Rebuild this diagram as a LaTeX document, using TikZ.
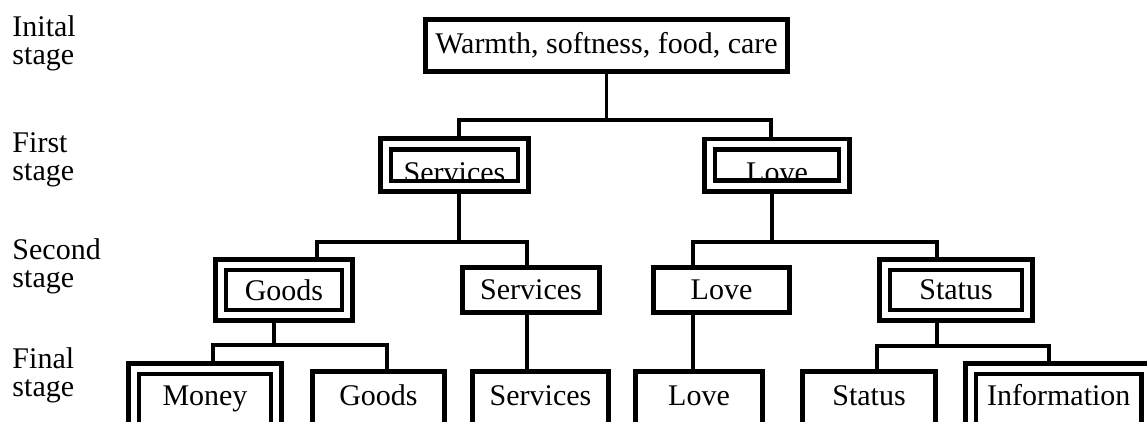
\documentclass[tikz,border=0pt]{standalone}
\usepackage{fontspec}
\setmainfont{Liberation Serif}
\usetikzlibrary{positioning,backgrounds}

\begin{document}
\begin{tikzpicture}[x=0.4pt, y=-0.4pt,
    every node/.style={font=\fontsize{12pt}{11.2pt}\selectfont},
    sbox/.style={draw, line width=2pt, inner xsep=2pt, inner ysep=0pt},
    dbox/.style={draw, double, double distance=2.4pt, line width=1.9pt, inner xsep=2pt, inner ysep=0pt},
    lowtext/.style={text height=13.6pt, text depth=0pt},
    cut/.style={text height=8pt, text depth=8pt},
    lbl/.style={anchor=north west, align=left, inner sep=0pt},
    link/.style={line width=1.3pt}]
    \useasboundingbox (0,0) rectangle (1147,421);

    % Stage labels
    \node[lbl] (l0) at (12,15.5) {Inital\\stage};
    \node[lbl] (l1) at (12,132) {First\\stage};
    \node[lbl] (l2) at (12,238.5) {Second\\stage};
    \node[lbl] (l3) at (12,347.5) {Final\\stage};

    % Initial stage
    \node[sbox, minimum width=144.8pt, minimum height=20.8pt] (top) at (606.5,45.5) {Warmth, softness, food, care};

    % First stage
    \node[dbox, lowtext, minimum width=55.1pt, minimum height=17pt] (serv1) at (454.5,165) {Services};
    \node[dbox, lowtext, minimum width=53.9pt, minimum height=16.6pt] (love1) at (777,165) {Love};

    % Second stage
    \node[dbox, minimum width=50.7pt, minimum height=20.3pt] (goods2) at (284,290) {Goods};
    \node[sbox, minimum width=54.8pt, minimum height=18pt] (serv2) at (531,290) {Services};
    \node[sbox, minimum width=54.4pt, minimum height=18pt] (love2) at (721.5,290) {Love};
    \node[dbox, minimum width=57.1pt, minimum height=20.3pt] (status2) at (956,290) {Status};

    % Final stage (boxes run off the bottom edge)
    \node[dbox, cut, minimum width=57.1pt, minimum height=29.1pt] (money) at (205,405) {Money};
    \node[sbox, cut, minimum width=52.8pt, minimum height=26.8pt] (goods3) at (378.5,405) {Goods};
    \node[sbox, cut, minimum width=54.4pt, minimum height=26.8pt] (serv3) at (540.5,405) {Services};
    \node[sbox, cut, minimum width=50.8pt, minimum height=26.8pt] (love3) at (699,405) {Love};
    \node[sbox, cut, minimum width=53.2pt, minimum height=26.8pt] (status3) at (869,405) {Status};
    \node[dbox, cut, minimum width=70.6pt, minimum height=29.1pt] (info) at (1058.8,405) {Information};

    % Junctions
    \coordinate (c1l) at (459,120);
    \coordinate (c1r) at (771,120);
    \coordinate (c2) at (459,242);
    \coordinate (c2l) at (317,242);
    \coordinate (c2r) at (527,242);
    \coordinate (c3) at (772,242);
    \coordinate (c3l) at (693,242);
    \coordinate (c3r) at (937,242);
    \coordinate (c4) at (274,345);
    \coordinate (c4l) at (213,345);
    \coordinate (c4r) at (387,345);
    \coordinate (c6) at (937,346);
    \coordinate (c6l) at (877,346);
    \coordinate (c6r) at (1049,346);

    % Connections
    \begin{scope}[on background layer={link}]
        \draw (top.south) -- (top.south |- c1l);
        \draw (serv1.north -| c1l) |- (c1r) -- (love1.north -| c1r);

        \draw (serv1.south -| c2) -- (c2);
        \draw (goods2.north -| c2l) |- (c2r) -- (serv2.north -| c2r);

        \draw (love1.south -| c3) -- (c3);
        \draw (love2.north -| c3l) |- (c3r) -- (status2.north -| c3r);

        \draw (goods2.south -| c4) -- (c4);
        \draw (money.north -| c4l) |- (c4r) -- (goods3.north -| c4r);

        \draw (serv2.south -| c2r) -- (serv3.north -| c2r);
        \draw (love2.south -| c3l) -- (love3.north -| c3l);

        \draw (status2.south -| c6) -- (c6);
        \draw (status3.north -| c6l) |- (c6r) -- (info.north -| c6r);
    \end{scope}
\end{tikzpicture}
\end{document}
